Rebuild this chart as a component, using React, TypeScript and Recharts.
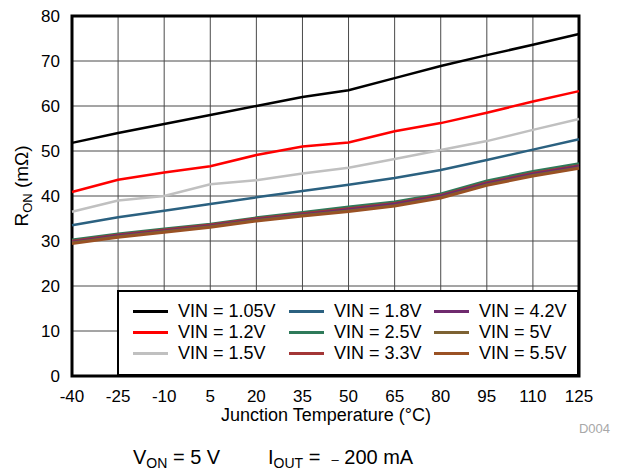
import React from 'react';
import { LineChart, Line, XAxis, YAxis, CartesianGrid, ReferenceArea } from 'recharts';

const temps = [-40, -25, -10, 5, 20, 35, 50, 65, 80, 95, 110, 125];
const vin105 = [51.8, 54, 56, 58, 60, 62, 63.5, 66.2, 68.9, 71.3, 73.6, 76];
const vin12 = [40.9, 43.6, 45.2, 46.6, 49.1, 51, 51.9, 54.4, 56.2, 58.5, 61, 63.3];
const vin15 = [36.5, 39, 40, 42.6, 43.5, 45, 46.3, 48.2, 50.2, 52.2, 54.7, 57.1];
const vin18 = [33.5, 35.3, 36.7, 38.2, 39.7, 41.1, 42.5, 44, 45.8, 48, 50.3, 52.6];
const vin25 = [30.3, 31.6, 32.7, 33.8, 35.2, 36.4, 37.6, 38.7, 40.5, 43.4, 45.5, 47.2];
const vin33 = [30.0, 31.4, 32.5, 33.6, 35.0, 36.1, 37.2, 38.4, 40.2, 43.0, 45.1, 46.8];
const vin42 = [29.8, 31.2, 32.3, 33.4, 34.8, 35.9, 37.0, 38.2, 40.0, 42.8, 44.9, 46.6];
const vin5 = [29.6, 31.0, 32.1, 33.2, 34.6, 35.7, 36.7, 37.9, 39.7, 42.5, 44.6, 46.3];
const vin55 = [29.4, 30.8, 31.9, 33.0, 34.4, 35.5, 36.5, 37.7, 39.5, 42.3, 44.4, 46.1];

const xTicks = [-40, -25, -10, 5, 20, 35, 50, 65, 80, 95, 110, 125];
const yTicks = [0, 10, 20, 30, 40, 50, 60, 70, 80];

const series = [
  { key: 'v105', name: 'VIN = 1.05V', color: '#000000', values: vin105 },
  { key: 'v12', name: 'VIN = 1.2V', color: '#ff0000', values: vin12 },
  { key: 'v15', name: 'VIN = 1.5V', color: '#c0c0c0', values: vin15 },
  { key: 'v18', name: 'VIN = 1.8V', color: '#2b6180', values: vin18 },
  { key: 'v25', name: 'VIN = 2.5V', color: '#2f7a5a', values: vin25 },
  { key: 'v33', name: 'VIN = 3.3V', color: '#a33636', values: vin33 },
  { key: 'v42', name: 'VIN = 4.2V', color: '#6f2a6e', values: vin42 },
  { key: 'v5', name: 'VIN = 5V', color: '#7d6233', values: vin5 },
  { key: 'v55', name: 'VIN = 5.5V', color: '#9a5124', values: vin55 },
];

const data = temps.map((t, i) => {
  const row: Record<string, number> = { t };
  series.forEach(s => { row[s.key] = s.values[i]; });
  return row;
});

const font = '"Liberation Sans", Arial, sans-serif';

export default function App() {
  // legend: 3 columns, filled column by column
  const cols = [series.slice(0, 3), series.slice(3, 6), series.slice(6, 9)];
  const colLeft = [14, 170, 315];

  return (
    <div style={{ position: 'absolute', left: 0, top: 0, width: 618, height: 472, background: '#fff', fontFamily: font }}>
      <LineChart width={618} height={472} data={data} margin={{ top: 16, right: 39, left: 12, bottom: 56 }}>
        <CartesianGrid stroke="#4a4a4a" strokeWidth={1} />
        <XAxis
          dataKey="t"
          type="number"
          domain={[-40, 125]}
          ticks={xTicks}
          interval={0}
          height={40}
          tickLine={false}
          axisLine={false}
          tick={{ fontSize: 17, fill: '#000', fontFamily: font }}
          tickMargin={8}
        />
        <YAxis
          type="number"
          domain={[0, 80]}
          ticks={yTicks}
          interval={0}
          width={60}
          tickLine={false}
          axisLine={false}
          tick={{ fontSize: 17, fill: '#000', fontFamily: font }}
          tickMargin={6}
        />
        {series.map(s => (
          <Line
            key={s.key}
            dataKey={s.key}
            stroke={s.color}
            strokeWidth={2.5}
            dot={false}
            type="linear"
            isAnimationActive={false}
          />
        ))}
        <ReferenceArea x1={-40} x2={125} y1={0} y2={80} fill="none" fillOpacity={0} stroke="#000" strokeWidth={3} ifOverflow="visible" />
      </LineChart>

      <div style={{ position: 'absolute', left: 117, top: 290, width: 458, height: 82, background: '#fff', border: '2px solid #000' }}>
        {cols.map((col, ci) => col.map((s, ri) => (
          <div key={s.key} style={{ position: 'absolute', left: colLeft[ci], top: 9 + ri * 21, display: 'flex', alignItems: 'center', height: 20, fontSize: 18, color: '#000', whiteSpace: 'nowrap' }}>
            <span style={{ display: 'inline-block', width: 35, height: 3, background: s.color, marginRight: 10 }} />
            <span>{s.name}</span>
          </div>
        )))}
      </div>

      <svg width={618} height={472} style={{ position: 'absolute', left: 0, top: 0, pointerEvents: 'none' }}>
        <text transform="translate(28,186) rotate(-90)" textAnchor="middle" fontSize={19} fontFamily={font} fill="#000">
          R<tspan fontSize={13} dy={4}>ON</tspan><tspan dy={-4}> (mΩ)</tspan>
        </text>
        <text x={326} y={421} textAnchor="middle" fontSize={18} fontFamily={font} fill="#000">Junction Temperature (°C)</text>
        <text x={610} y={433} textAnchor="end" fontSize={13} fontFamily={font} fill="#a8a8a8">D004</text>
        <text x={133} y={464} fontSize={20} fontFamily={font} fill="#000">
          V<tspan fontSize={14} dy={4}>ON</tspan><tspan dy={-4}> = 5 V</tspan>
        </text>
        <text x={268} y={464} fontSize={20} fontFamily={font} fill="#000" style={{ whiteSpace: 'pre' }}>
          I<tspan fontSize={14} dy={4}>OUT</tspan><tspan dy={-4}>{' =  '}</tspan><tspan fontSize={13}>–</tspan><tspan>{' 200 mA'}</tspan>
        </text>
      </svg>
    </div>
  );
}
